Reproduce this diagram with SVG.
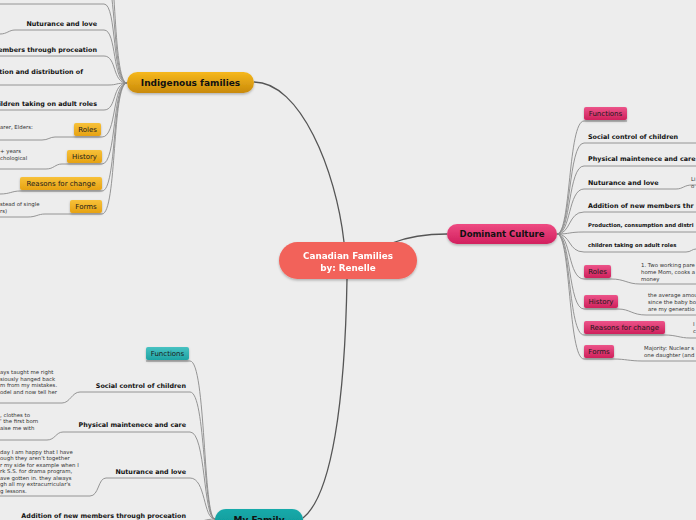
<svg xmlns="http://www.w3.org/2000/svg" width="696" height="520" viewBox="0 0 696 520">
<defs>
<linearGradient id="gOr" x1="0" y1="0" x2="0" y2="1"><stop offset="0" stop-color="#f6b81c"/><stop offset="1" stop-color="#c98a0b"/></linearGradient>
<linearGradient id="gOrS" x1="0" y1="0" x2="0" y2="1"><stop offset="0" stop-color="#f7c13a"/><stop offset="1" stop-color="#e6a212"/></linearGradient>
<linearGradient id="gPk" x1="0" y1="0" x2="0" y2="1"><stop offset="0" stop-color="#ee4b82"/><stop offset="1" stop-color="#d21f5e"/></linearGradient>
<linearGradient id="gPkS" x1="0" y1="0" x2="0" y2="1"><stop offset="0" stop-color="#ec5489"/><stop offset="1" stop-color="#cf1f5c"/></linearGradient>
<linearGradient id="gTl" x1="0" y1="0" x2="0" y2="1"><stop offset="0" stop-color="#16aaaa"/><stop offset="1" stop-color="#0b9494"/></linearGradient>
<linearGradient id="gTlS" x1="0" y1="0" x2="0" y2="1"><stop offset="0" stop-color="#48c2c2"/><stop offset="1" stop-color="#1ea3a3"/></linearGradient>
<filter id="sh" x="-20%" y="-30%" width="140%" height="170%"><feDropShadow dx="0" dy="1.5" stdDeviation="1.2" flood-color="#000" flood-opacity="0.25"/></filter>
</defs>
<style>
.main{fill:none;stroke:#555;stroke-width:1.3}
.br{fill:none;stroke:#8a8a8a;stroke-width:0.9}
.t{font-family:"DejaVu Sans",Verdana,sans-serif;font-weight:bold;fill:#111}
.b{font-family:"DejaVu Sans",Verdana,sans-serif;font-size:7px;fill:#1a1a1a}
.n{font-family:"DejaVu Sans",Verdana,sans-serif;font-size:5.4px;fill:#333}
.e{text-anchor:end}
.m{text-anchor:middle}
</style>
<rect width="696" height="520" fill="#ededed"/>

<g id="connectors">
<path class="main" d="M254,82 C300,82 336,170 344,242"/>
<path class="main" d="M392,243 C410,236 428,234 447,234"/>
<path class="main" d="M347,279 C345,400 332,495 303,518"/>
<!-- Indigenous -->
<path class="br" d="M127,83 C112,83 117,-60 104,-60 H0"/>
<path class="br" d="M127,83 C112,83 117,-25 104,-25 H0"/>
<path class="br" d="M127,83 C112,83 117,4 104,4 H0"/>
<path class="br" d="M127,83 C112,83 117,30 104,30 H15 C9,30 7,34 0,34"/>
<path class="br" d="M127,83 C112,83 117,56 104,56 H0"/>
<path class="br" d="M127,83 C115,83 118,85 108,85 H0"/>
<path class="br" d="M127,83 C112,83 117,110 104,110 H0"/>
<path class="br" d="M127,83 C112,83 117,137 102,137 H55 C50,137 48,140 42,140 H0"/>
<path class="br" d="M127,83 C112,83 117,164 102,164 H62 C55,164 54,169 46,169 H0"/>
<path class="br" d="M127,83 C112,83 117,191 102,191 H20 C12,191 10,194 0,194"/>
<path class="br" d="M127,83 C112,83 117,214 102,214 H45 C38,214 36,217 28,217 H0"/>
<!-- Dominant -->
<path class="br" d="M557,234 C571,234 568,121 584,121 H627"/>
<path class="br" d="M557,234 C571,234 568,143 584,143 H696"/>
<path class="br" d="M557,234 C571,234 568,166 584,166 H696"/>
<path class="br" d="M557,234 C571,234 568,189 584,189 H676 C683,189 684,185 692,185 H696"/>
<path class="br" d="M557,234 C571,234 568,212 584,212 H696"/>
<path class="br" d="M557,234 C571,234 568,232 584,232 H696"/>
<path class="br" d="M557,234 C571,234 568,252 584,252 H686 C691,252 692,249 696,249"/>
<path class="br" d="M557,234 C571,234 568,279 584,279 H611 C625,279 627,284 640,284 H696"/>
<path class="br" d="M557,234 C571,234 568,309 584,309 H618 C630,309 632,315 646,315 H696"/>
<path class="br" d="M557,234 C571,234 568,335 584,335 H665 C676,335 680,338 690,338 H696"/>
<path class="br" d="M557,234 C571,234 568,359 584,359 H614 C625,359 630,361 642,361 H696"/>
<!-- My Family -->
<path class="br" d="M215,519 C203,519 206,361 190,361 H146"/>
<path class="br" d="M215,519 C203,519 206,392 190,392 H80 C72,392 70,403 62,403 H0"/>
<path class="br" d="M215,519 C203,519 206,432 190,432 H63 C56,432 55,440 47,440 H0"/>
<path class="br" d="M215,519 C203,519 206,478 190,478 H106 C98,478 99,496 90,496 H0"/>
<path class="br" d="M215,519 C205,519 204,522 190,522 H0"/>
</g>

<g id="center" filter="url(#sh)">
<rect x="279" y="242" width="138" height="37" rx="18.5" fill="#f2625a"/>
<text class="t m" x="348" y="258.5" font-size="8.8" style="fill:#fff">Canadian Families</text>
<text class="t m" x="348" y="270.5" font-size="8.8" style="fill:#fff">by: Renelle</text>
</g>

<g id="indigenous">
<rect x="127" y="72" width="127" height="21" rx="10.5" fill="url(#gOr)" filter="url(#sh)"/>
<text class="t m" x="190.5" y="86" font-size="9">Indigenous families</text>
</g>
<g id="ind-nurt"><text class="t e" x="97" y="25.5" font-size="6.4">Nuturance and love</text></g>
<g id="ind-add"><text class="t e" x="97" y="51.5" font-size="6.4">embers through proceation</text></g>
<g id="ind-prod"><text class="t e" x="83" y="73.5" font-size="6.4">tion and distribution of</text></g>
<g id="ind-child"><text class="t e" x="97" y="105.5" font-size="6.4">ildren taking on adult roles</text></g>
<g id="ind-roles"><rect x="74" y="123" width="27" height="13" rx="2" fill="url(#gOrS)" filter="url(#sh)"/><text class="b m" x="87.5" y="132">Roles</text>
<text class="n" x="0" y="129">arer, Elders:</text></g>
<g id="ind-history"><rect x="67" y="150" width="35" height="13" rx="2" fill="url(#gOrS)" filter="url(#sh)"/><text class="b m" x="84.5" y="159">History</text>
<text class="n" x="0" y="153">+ years</text><text class="n" x="0" y="159.5">chological</text></g>
<g id="ind-reasons"><rect x="20" y="177" width="82" height="13" rx="2" fill="url(#gOrS)" filter="url(#sh)"/><text class="b m" x="61" y="186">Reasons for change</text></g>
<g id="ind-forms"><rect x="70" y="200" width="32" height="13" rx="2" fill="url(#gOrS)" filter="url(#sh)"/><text class="b m" x="86" y="209">Forms</text>
<text class="n" x="0" y="206">stead of single</text><text class="n" x="0" y="212.5">rs)</text></g>

<g id="dominant">
<rect x="447" y="224" width="110" height="20" rx="10" fill="url(#gPk)" filter="url(#sh)"/>
<text class="t m" x="502" y="237" font-size="8.5">Dominant Culture</text>
</g>
<g id="dom-functions"><rect x="584" y="107" width="43" height="13" rx="2" fill="url(#gPkS)" filter="url(#sh)"/><text class="b m" x="605.5" y="116">Functions</text></g>
<g id="dom-social"><text class="t" x="588" y="138.5" font-size="6.4">Social control of children</text></g>
<g id="dom-phys"><text class="t" x="588" y="161" font-size="6.4">Physical maintenece and care</text></g>
<g id="dom-nurt"><text class="t" x="588" y="184.5" font-size="6.4">Nuturance and love</text>
<text class="n" x="691" y="181">Li</text><text class="n" x="691" y="188">o</text></g>
<g id="dom-add"><text class="t" x="588" y="207.5" font-size="6.4">Addition of new members thr</text></g>
<g id="dom-prod"><text class="t" x="588" y="227" font-size="5.3">Production, consumption and distri</text></g>
<g id="dom-child"><text class="t" x="588" y="247" font-size="5.3">children taking on adult roles</text></g>
<g id="dom-roles"><rect x="584" y="265" width="27" height="13" rx="2" fill="url(#gPkS)" filter="url(#sh)"/><text class="b m" x="597.5" y="274">Roles</text>
<text class="n" x="641" y="267">1. Two working pare</text><text class="n" x="641" y="274">home Mom, cooks a</text><text class="n" x="641" y="280.5">money</text></g>
<g id="dom-history"><rect x="584" y="295" width="34" height="13" rx="2" fill="url(#gPkS)" filter="url(#sh)"/><text class="b m" x="601" y="304">History</text>
<text class="n" x="648" y="297">the average amou</text><text class="n" x="648" y="304">since the baby bo</text><text class="n" x="648" y="310.5">are my generatio</text></g>
<g id="dom-reasons"><rect x="584" y="321" width="81" height="13" rx="2" fill="url(#gPkS)" filter="url(#sh)"/><text class="b m" x="624.5" y="330">Reasons for change</text>
<text class="n" x="693" y="326">I</text><text class="n" x="693" y="333">c</text></g>
<g id="dom-forms"><rect x="584" y="345" width="30" height="13" rx="2" fill="url(#gPkS)" filter="url(#sh)"/><text class="b m" x="599" y="354">Forms</text>
<text class="n" x="644" y="350">Majority: Nuclear s</text><text class="n" x="644" y="357">one daughter (and</text></g>

<g id="myfamily">
<rect x="215" y="509" width="88" height="24" rx="11" fill="url(#gTl)" filter="url(#sh)"/>
<text class="t m" x="259" y="523" font-size="9">My Family</text>
</g>
<g id="my-functions"><rect x="146" y="347" width="43" height="13" rx="2" fill="url(#gTlS)" filter="url(#sh)"/><text class="b m" x="167.5" y="356">Functions</text></g>
<g id="my-social"><text class="t e" x="186" y="387.5" font-size="6.4">Social control of children</text>
<text class="n" x="0" y="374">ays taught me right</text><text class="n" x="0" y="380.5">siously hanged back</text><text class="n" x="0" y="387">m from my mistakes.</text><text class="n" x="0" y="393.5">odel and now tell her</text></g>
<g id="my-phys"><text class="t e" x="186" y="427" font-size="6.4">Physical maintenece and care</text>
<text class="n" x="0" y="416.5">, clothes to</text><text class="n" x="0" y="423">' the first born</text><text class="n" x="0" y="429.5">aise me with</text></g>
<g id="my-nurt"><text class="t e" x="186" y="474" font-size="6.4">Nuturance and love</text>
<text class="n" x="0" y="453.5">day I am happy that I have</text><text class="n" x="0" y="460">ough they aren't together</text><text class="n" x="0" y="466.5">r my side for example when I</text><text class="n" x="0" y="473">rk S.S. for drama program,</text><text class="n" x="0" y="479.5">ave gotten in. they always</text><text class="n" x="0" y="486">gh all my extracurricular's</text><text class="n" x="0" y="492.5">g lessons.</text></g>
<g id="my-add"><text class="t e" x="186" y="517.5" font-size="6.4">Addition of new members through proceation</text></g>
</svg>
